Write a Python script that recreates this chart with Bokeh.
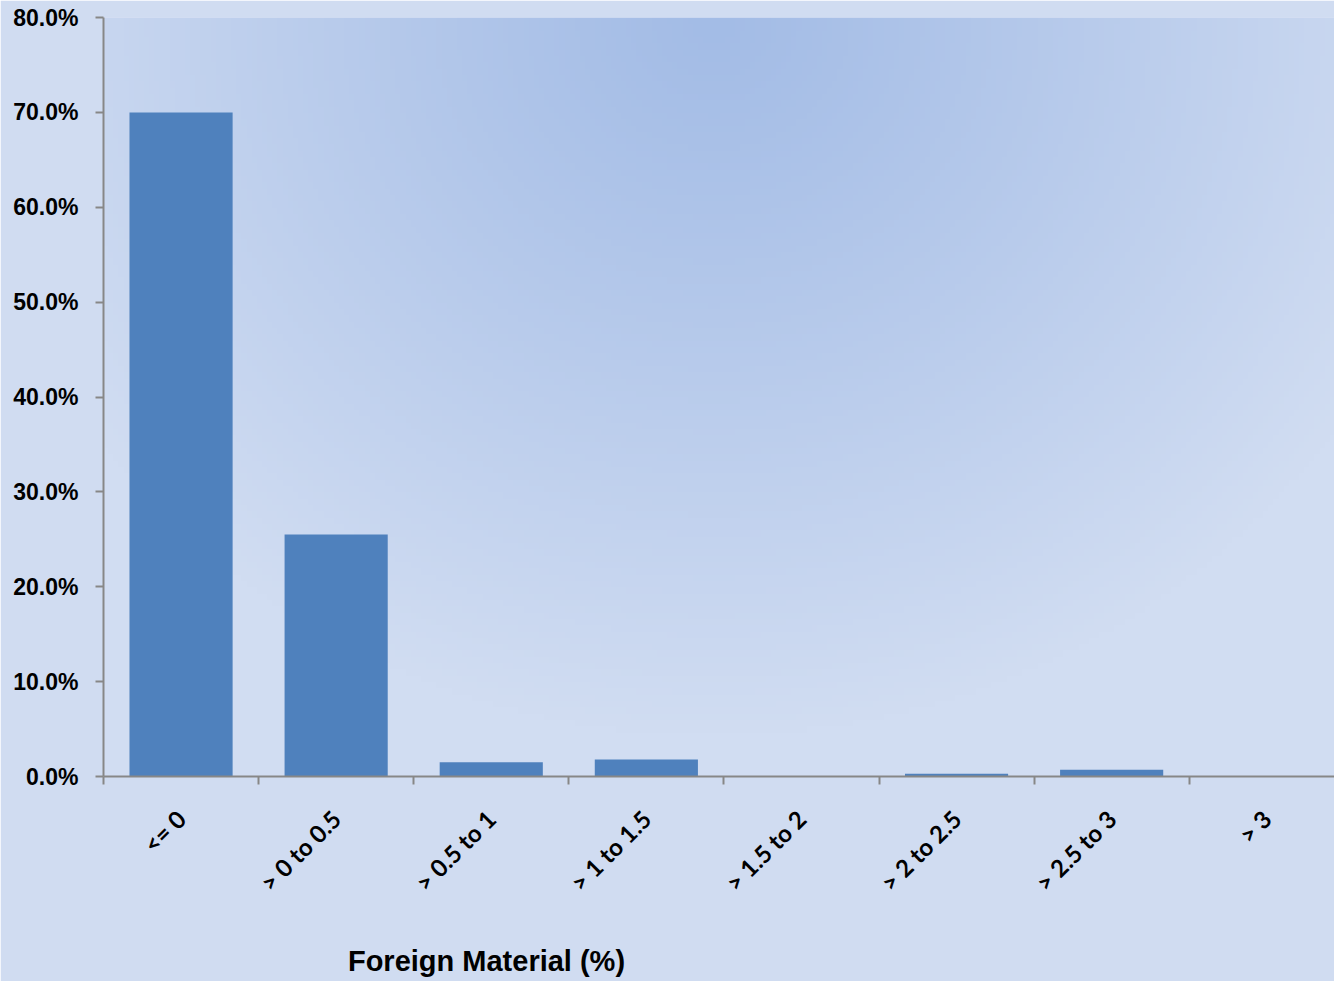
import math
import numpy as np
from bokeh.plotting import figure
from bokeh.models import FixedTicker, PrintfTickFormatter, Range1d, LinearAxis
from bokeh.embed import file_html
from bokeh.resources import INLINE

# ---- data ----
categories = ["<= 0", "> 0 to 0.5", "> 0.5 to 1", "> 1 to 1.5", "> 1.5 to 2",
              "> 2 to 2.5", "> 2.5 to 3", "> 3"]
shares = [70.0, 25.5, 1.5, 1.8, 0.0, 0.3, 0.7, 0.0]
y_ticks = [0, 10, 20, 30, 40, 50, 60, 70, 80]
x_title = "Foreign Material (%)"

n = len(categories)
centers = [i + 0.5 for i in range(n)]
bounds = list(range(n + 1))

W, H = 1334, 981
LEFT, TOP, BOTTOM = 103, 17, 205
frame_w = W - LEFT
cat_px = 155.1
x_end = frame_w / cat_px

p = figure(width=W, height=H, output_backend="svg", toolbar_location=None,
           x_range=Range1d(0, x_end), y_range=Range1d(0, 80),
           min_border_left=LEFT, min_border_right=0, min_border_top=TOP,
           min_border_bottom=BOTTOM)
p.outline_line_color = None
p.border_fill_color = "#d0dcf1"
p.background_fill_color = "#c9d6ef"

# background gradient (decoration)
ny, nx = 120, 240
yy, xx = np.mgrid[0:ny, 0:nx]
px_x = xx / (nx - 1) * frame_w
px_y = (1 - yy / (ny - 1)) * 759.0  # distance from top in px (row 0 = bottom)
dx = (px_x - 610) / 760.0
dy = px_y / 720.0
t = np.clip(np.sqrt(dx ** 2 + dy ** 2), 0, 1) ** 1.1
c0 = np.array([163, 188, 230])
c1 = np.array([209, 221, 242])
img = np.empty((ny, nx), dtype=np.uint32)
view = img.view(dtype=np.uint8).reshape((ny, nx, 4))
for k in range(3):
    view[:, :, k] = (c0[k] + (c1[k] - c0[k]) * t).astype(np.uint8)
view[:, :, 3] = 255
p.image_rgba(image=[img], x=0, y=0, dw=x_end, dh=80)

# bars
p.vbar(x=centers, top=shares, width=0.665, fill_color="#4f81bd",
       line_color="#4f81bd", line_width=0)

# grid
p.xgrid.grid_line_color = None
p.ygrid.ticker = FixedTicker(ticks=y_ticks)
p.ygrid.grid_line_color = "#878787"
p.ygrid.grid_line_width = 1.8
p.ygrid.level = "underlay"

# y axis
ya = p.yaxis[0]
ya.ticker = FixedTicker(ticks=y_ticks)
ya.formatter = PrintfTickFormatter(format="%.1f%%")
ya.axis_line_color = "#878787"
ya.axis_line_width = 2
ya.major_tick_line_color = "#878787"
ya.major_tick_line_width = 2
ya.major_tick_out = 8
ya.major_tick_in = 0
ya.minor_tick_line_color = None
ya.major_label_text_font = "Liberation Sans"
ya.major_label_text_font_style = "bold"
ya.major_label_text_font_size = "23px"
ya.major_label_text_color = "#000000"
ya.major_label_standoff = 17

# x axis
xa = p.xaxis[0]
xa.ticker = FixedTicker(ticks=centers, minor_ticks=bounds)
xa.major_label_overrides = {c: lab for c, lab in zip(centers, categories)}
xa.major_label_orientation = math.pi / 4
xa.axis_line_color = "#878787"
xa.axis_line_width = 2
xa.major_tick_line_color = None
xa.minor_tick_line_color = "#878787"
xa.minor_tick_line_width = 2
xa.minor_tick_out = 8
xa.minor_tick_in = 0
xa.major_label_text_font = "Lato"
xa.major_label_text_font_style = "bold"
xa.major_label_text_font_size = "24px"
xa.major_label_text_color = "#000000"
xa.major_label_standoff = 30

# axis title: a second, bare axis carrying the title as its single label,
# positioned horizontally like the reference
title_pos = (486 - LEFT) / cat_px
tax = LinearAxis(ticker=FixedTicker(ticks=[title_pos], minor_ticks=[]),
                 major_label_overrides={title_pos: x_title},
                 axis_line_color=None, major_tick_line_color=None,
                 minor_tick_line_color=None, major_tick_out=0, major_tick_in=0,
                 minor_tick_out=0, minor_tick_in=0,
                 major_label_standoff=35,
                 major_label_text_font="Liberation Sans",
                 major_label_text_font_style="bold",
                 major_label_text_font_size="29px",
                 major_label_text_color="#000000")
p.add_layout(tax, "below")

open("out.html", "w").write(file_html(p, INLINE))
